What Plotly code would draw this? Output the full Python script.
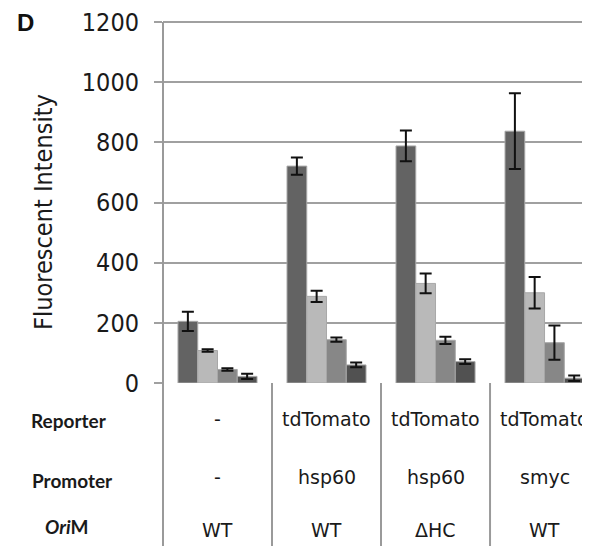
import plotly.graph_objects as go

# ---- data ----
groups = [0, 1, 2, 3]
series1 = [205, 721, 788, 837]
err1 = [32, 29, 51, 126]
series2 = [108, 288, 331, 300]
err2 = [4, 19, 33, 52]
series3 = [45, 144, 142, 134]
err3 = [4, 7, 12, 57]
series4 = [22, 60, 71, 16]
err4 = [9, 8, 8, 9]

reporter = ["-", "tdTomato", "tdTomato", "tdTomato"]
promoter = ["-", "hsp60", "hsp60", "smyc"]
orim = ["WT", "WT", "\u0394HC", "WT"]
row_labels = ["Reporter", "Promoter", "<i>Ori</i>M"]
y_ticks = [0, 200, 400, 600, 800, 1000, 1200]

# ---- layout constants (page body has an 8px margin) ----
OFF = 8
W, H = 590 - OFF, 546 - OFF
YTOP, YMAX = 1200, 1210
PH = 364
MB = 163
MT = H - MB - PH
ML, MR = 163 - OFF, 0
PW = W - ML - MR
XMIN, XMAX = -0.5, 3.417

def py(pix):  # window pixel row -> paper y
    return (H - MB - (pix - OFF)) / PH

def px(pix):  # window pixel col -> paper x
    return (pix - OFF - ML) / PW

colors = ["#636363", "#b9b9b9", "#878787", "#515151"]
all_series = [(series1, err1), (series2, err2), (series3, err3), (series4, err4)]

fig = go.Figure()
for i, (vals, errs) in enumerate(all_series):
    fig.add_trace(go.Bar(
        x=groups, y=vals,
        marker=dict(color=colors[i], line=dict(color="#a8a8a8", width=1)),
        error_y=dict(type="data", array=errs, visible=True, color="#111111",
                     thickness=2, width=6),
        showlegend=False,
    ))

shapes = []
for g in range(len(groups)):
    xb = (g - 0.5 - XMIN) / (XMAX - XMIN)
    top = YTOP / YMAX if g == 0 else 0
    shapes.append(dict(type="line", xref="paper", yref="paper",
                       x0=xb, x1=xb, y0=top, y1=py(546), line=dict(color="#9a9a9a", width=2)))

ann = []
tfont = dict(family="DejaVu Sans", size=19, color="#1a1a1a")
for g in range(len(groups)):
    ann.append(dict(x=groups[g], xref="x", y=py(419), yref="paper", text=reporter[g],
                    showarrow=False, font=tfont, xanchor="center", yanchor="middle"))
    ann.append(dict(x=groups[g], xref="x", y=py(477), yref="paper", text=promoter[g],
                    showarrow=False, font=tfont, xanchor="center", yanchor="middle"))
    ann.append(dict(x=groups[g], xref="x", y=py(530), yref="paper", text=orim[g],
                    showarrow=False, font=tfont, xanchor="center", yanchor="middle"))

lfont = dict(family="Lato", size=19, color="#1a1a1a", weight="bold")
for lab, cx, cy in zip(row_labels, [69, 72, 67], [420, 480, 526]):
    ann.append(dict(x=px(cx), xref="paper", y=py(cy), yref="paper", text=lab,
                    showarrow=False, font=lfont, xanchor="center", yanchor="middle"))

ann.append(dict(x=px(43), xref="paper", y=py(212), yref="paper",
                text="Fluorescent Intensity", textangle=-90, showarrow=False,
                font=dict(family="DejaVu Sans Condensed", size=25, color="#1a1a1a"),
                xanchor="center", yanchor="middle"))
ann.append(dict(x=px(25), xref="paper", y=py(23), yref="paper", text="<b>D</b>",
                showarrow=False, font=dict(family="Liberation Sans", size=24, color="#111"),
                xanchor="center", yanchor="middle"))

fig.update_layout(
    width=W, height=H,
    margin=dict(l=ML, r=MR, t=MT, b=MB),
    paper_bgcolor="white", plot_bgcolor="white",
    barmode="group", bargap=0.275, bargroupgap=0,
    shapes=shapes, annotations=ann,
    xaxis=dict(range=[XMIN, XMAX], showticklabels=False, showgrid=False,
               zeroline=False, showline=False, ticks=""),
    yaxis=dict(range=[0, YMAX], tickvals=y_ticks, showgrid=True,
               gridcolor="#a0a0a0", gridwidth=2, zeroline=False,
               showline=False,
               ticks="outside", ticklen=8, tickwidth=2,
               tickcolor="#a0a0a0", ticklabelstandoff=10,
               ticklabeloverflow="allow",
               tickfont=dict(family="DejaVu Sans Condensed", size=25, color="#1a1a1a")),
)

fig.write_html("out.html")
